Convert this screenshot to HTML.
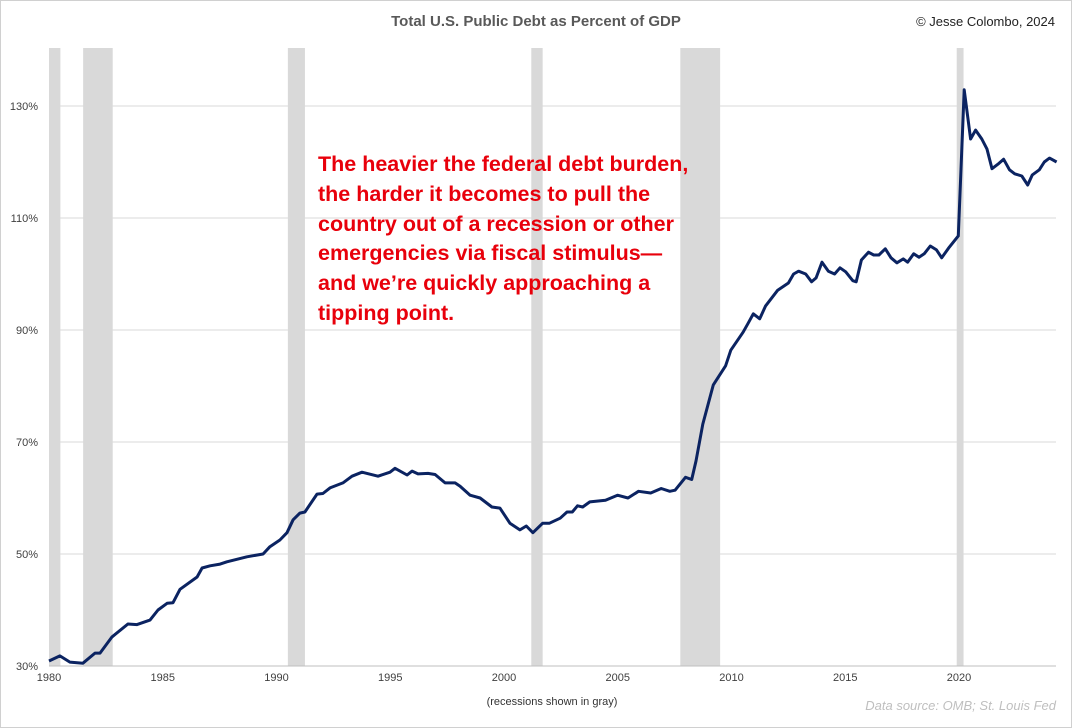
<!DOCTYPE html>
<html><head><meta charset="utf-8"><style>
body{margin:0;background:#fff;}
svg{display:block;font-family:"Liberation Sans",sans-serif;}
</style></head><body>
<svg id="chart" width="1072" height="728" viewBox="0 0 1072 728">
<rect x="0.5" y="0.5" width="1071" height="727" fill="#fff" stroke="#d0d0d0"/>
<text x="536" y="26" text-anchor="middle" font-size="15" font-weight="bold" fill="#595959">Total U.S. Public Debt as Percent of GDP</text>
<text x="1055" y="26" text-anchor="end" font-size="13" fill="#222">© Jesse Colombo, 2024</text>
<g id="bands"></g><g id="grid"></g><g id="xt"></g><g id="yt"></g>
<path id="line" fill="none" stroke="#0b2361" stroke-width="3" stroke-linejoin="round"/>
<g font-size="21.5" font-weight="bold" fill="#e8000b">
<text x="318" y="171">The heavier the federal debt burden,</text>
<text x="318" y="201">the harder it becomes to pull the</text>
<text x="318" y="231">country out of a recession or other</text>
<text x="318" y="260">emergencies via fiscal stimulus—</text>
<text x="318" y="290">and we’re quickly approaching a</text>
<text x="318" y="320">tipping point.</text>
</g>
<text x="552" y="705" text-anchor="middle" font-size="11" fill="#333">(recessions shown in gray)</text>
<text x="1056" y="710" text-anchor="end" font-size="13" font-style="italic" fill="#bfbfbf">Data source: OMB; St. Louis Fed</text>
</svg>
<script>
const years=[1980,1980.48,1980.92,1981.49,1982.02,1982.24,1982.77,1983.47,1983.87,1984.44,1984.79,1985.19,1985.45,1985.76,1986.51,1986.73,1987.08,1987.52,1987.82,1988.7,1989.41,1989.71,1990.15,1990.46,1990.73,1991.03,1991.25,1991.78,1992.04,1992.35,1992.92,1993.32,1993.76,1994.46,1994.99,1995.21,1995.74,1995.96,1996.22,1996.66,1996.97,1997.41,1997.85,1998.07,1998.51,1998.95,1999.47,1999.82,2000.26,2000.7,2000.98,2001.27,2001.7,2002,2002.47,2002.77,2003,2003.23,2003.46,2003.77,2004.46,2004.99,2005.45,2005.91,2006.45,2006.91,2007.29,2007.52,2007.98,2008.25,2008.44,2008.74,2009.2,2009.74,2009.97,2010.51,2010.73,2010.96,2011.24,2011.5,2012.03,2012.5,2012.73,2012.95,2013.26,2013.52,2013.72,2013.98,2014.26,2014.53,2014.77,2015.02,2015.33,2015.48,2015.71,2016.02,2016.25,2016.48,2016.76,2017.01,2017.27,2017.55,2017.74,2018.01,2018.24,2018.47,2018.74,2019.01,2019.24,2019.54,2019.97,2020.23,2020.51,2020.73,2021,2021.23,2021.45,2021.71,2021.96,2022.22,2022.45,2022.76,2023.02,2023.22,2023.53,2023.75,2023.98,2024.29];
const debt=[30.9,31.8,30.7,30.5,32.3,32.3,35.2,37.5,37.4,38.2,40,41.2,41.3,43.7,45.9,47.5,47.9,48.2,48.6,49.5,50,51.3,52.5,53.8,56.1,57.3,57.5,60.7,60.8,61.8,62.7,63.9,64.6,63.9,64.6,65.3,64.1,64.8,64.3,64.4,64.2,62.7,62.7,62.1,60.5,60,58.4,58.2,55.5,54.3,55,53.8,55.5,55.5,56.4,57.5,57.5,58.6,58.4,59.3,59.6,60.5,60,61.2,60.9,61.7,61.2,61.4,63.7,63.3,66.6,73.2,80.2,83.6,86.4,89.6,91.2,92.9,92,94.3,97.1,98.4,100,100.5,100,98.6,99.3,102.1,100.5,100,101.1,100.4,98.8,98.6,102.5,103.9,103.4,103.4,104.5,102.9,102,102.7,102.1,103.6,103,103.6,105,104.3,102.9,104.6,106.8,132.9,124.1,125.7,124.1,122.3,118.8,119.6,120.5,118.6,117.9,117.5,115.9,117.7,118.6,120,120.7,120];
const recStart=[1980,1981.5,1990.5,2001.2,2007.75,2019.9];
const recEnd=[1980.5,1982.8,1991.25,2001.7,2009.5,2020.2];
const yTicks=[30,50,70,90,110,130];
const xTicks=[1980,1985,1990,1995,2000,2005,2010,2015,2020];
const NS='http://www.w3.org/2000/svg';
const X=y=>49+(y-1980)*22.75;
const Y=v=>666-(v-30)*5.6;
function mk(tag,attrs,parent,txt){const e=document.createElementNS(NS,tag);for(const k in attrs)e.setAttribute(k,attrs[k]);if(txt!==undefined)e.textContent=txt;document.getElementById(parent).appendChild(e);return e;}
recStart.forEach((s,i)=>{const e=mk('rect',{x:X(s),y:48,width:X(recEnd[i])-X(s),height:618,fill:'#d9d9d9'},'bands');

});
yTicks.forEach(v=>{const g=mk('line',{x1:49,x2:1056,y1:Y(v),y2:Y(v),stroke:'#d9d9d9','stroke-width':1},'grid');


const t=mk('text',{x:38,y:Y(v)+4,'text-anchor':'end','font-size':11,fill:'#404040'},'yt',v+'%');

});
mk('line',{x1:49,x2:1056,y1:666,y2:666,stroke:'#bfbfbf'},'grid');
xTicks.forEach(y=>{const t=mk('text',{x:X(y),y:681,'text-anchor':'middle','font-size':11,fill:'#404040'},'xt',y);

});
document.getElementById('line').setAttribute('d',years.map((y,i)=>(i?'L':'M')+X(y).toFixed(1)+','+Y(debt[i]).toFixed(1)).join(''));
</script>
</body></html>
